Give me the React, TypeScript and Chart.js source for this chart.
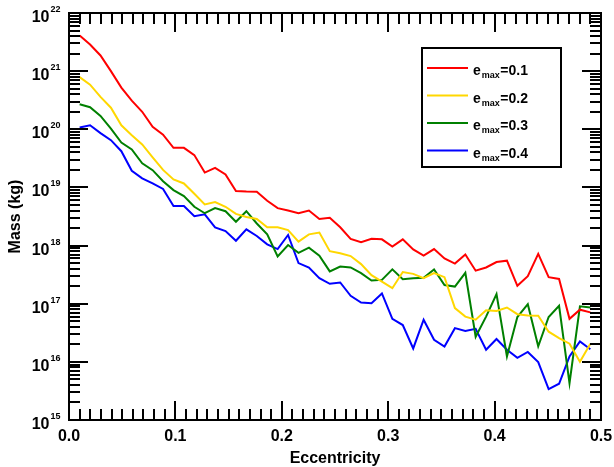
import React, { useEffect, useRef } from "react";
import { Chart, registerables } from "chart.js";

Chart.register(...registerables);

// Eccentricity bin centres
const ECCENTRICITY = [
  0.0100, 0.0198, 0.0296, 0.0394, 0.0492, 0.0590, 0.0688, 0.0786, 0.0884, 0.0982,
  0.1080, 0.1178, 0.1276, 0.1373, 0.1471, 0.1569, 0.1667, 0.1765, 0.1863, 0.1961,
  0.2059, 0.2157, 0.2255, 0.2353, 0.2451, 0.2549, 0.2647, 0.2745, 0.2843, 0.2941,
  0.3039, 0.3137, 0.3235, 0.3333, 0.3431, 0.3529, 0.3627, 0.3725, 0.3822, 0.3920,
  0.4018, 0.4116, 0.4214, 0.4312, 0.4410, 0.4508, 0.4606, 0.4704, 0.4802, 0.4900,
];

// Mass (kg) for e_max = 0.1
const MASS_EMAX_01 = [
  4.1e21, 2.87e21, 1.86e21, 1.0e21, 5.2e20, 3.1e20, 2.0e20, 1.1e20, 8.1e19, 4.8e19,
  4.8e19, 3.6e19, 1.8e19, 2.17e19, 1.67e19, 8.7e18, 8.5e18, 8.4e18, 5.9e18, 4.4e18,
  4.0e18, 3.6e18, 4.0e18, 2.86e18, 3.0e18, 2.06e18, 1.3e18, 1.14e18, 1.31e18, 1.28e18,
  9.6e17, 1.28e18, 8.6e17, 6.7e17, 8.7e17, 6.0e17, 4.9e17, 7.0e17, 3.7e17, 4.2e17,
  5.2e17, 5.5e17, 2.03e17, 2.97e17, 7.2e17, 2.86e17, 2.67e17, 5.5e16, 7.9e16, 7.1e16,
];

// Mass (kg) for e_max = 0.2
const MASS_EMAX_02 = [
  7.9e20, 5.85e20, 3.6e20, 2.35e20, 1.17e20, 7.9e19, 5.5e19, 3.3e19, 2.0e19, 1.37e19,
  1.17e19, 7.8e18, 5.1e18, 5.6e18, 4.65e18, 3.5e18, 3.1e18, 2.86e18, 2.06e18, 2.06e18,
  1.85e18, 1.17e18, 1.56e18, 1.67e18, 8.0e17, 7.4e17, 6.6e17, 4.8e17, 3.1e17, 2.4e17,
  1.85e17, 3.5e17, 3.26e17, 2.75e17, 3.35e17, 2.86e17, 8.4e16, 6.0e16, 5.3e16, 7.7e16,
  7.5e16, 8.6e16, 6.6e16, 6.3e16, 6.2e16, 3.3e16, 2.57e16, 2.05e16, 1.0e16, 2.05e16,
];

// Mass (kg) for e_max = 0.3
const MASS_EMAX_03 = [
  2.7e20, 2.4e20, 1.7e20, 1.03e20, 5.9e19, 4.5e19, 2.6e19, 1.98e19, 1.28e19, 9.0e18,
  7.1e18, 4.65e18, 3.6e18, 4.4e18, 3.9e18, 2.57e18, 3.9e18, 2.4e18, 1.56e18, 6.5e17,
  1.02e18, 7.5e17, 9.2e17, 6.7e17, 3.6e17, 4.35e17, 4.2e17, 3.35e17, 2.5e17, 2.57e17,
  3.9e17, 2.64e17, 2.75e17, 2.8e17, 3.9e17, 2.1e17, 1.97e17, 3.4e17, 2.7e16, 6.0e16,
  1.46e17, 1.24e16, 5.9e16, 9.8e16, 1.85e16, 5.9e16, 9.2e16, 4.3e15, 9.0e16, 8.6e16,
];

// Mass (kg) for e_max = 0.4
const MASS_EMAX_04 = [
  1.07e20, 1.17e20, 8.6e19, 6.5e19, 4.2e19, 1.93e19, 1.43e19, 1.17e19, 9.4e18, 4.8e18,
  4.8e18, 3.2e18, 3.45e18, 2.06e18, 1.78e18, 1.21e18, 1.9e18, 1.46e18, 1.05e18, 8.7e17,
  1.52e18, 5.0e17, 4.2e17, 2.75e17, 2.2e17, 2.32e17, 1.37e17, 1.05e17, 1.02e17, 1.5e17,
  5.5e16, 4.3e16, 1.7e16, 5.3e16, 2.4e16, 1.83e16, 3.8e16, 3.4e16, 3.7e16, 1.62e16,
  2.47e16, 1.62e16, 1.17e16, 1.48e16, 9.9e15, 3.4e15, 4.2e15, 1.24e16, 2.25e16, 1.65e16,
];

const SERIES_VALUES = ["0.1", "0.2", "0.3", "0.4"];
const SERIES_COLORS = ["#ff0000", "#ffd700", "#008000", "#0000ff"];

const X_MAJOR_TICKS = [0, 0.1, 0.2, 0.3, 0.4, 0.5];
const X_TICK_LABELS = ["0.0", "0.1", "0.2", "0.3", "0.4", "0.5"];
const Y_EXPONENTS = [15, 16, 17, 18, 19, 20, 21, 22];

const X_TITLE = "Eccentricity";
const Y_TITLE = "Mass (kg)";

const FONT = "'Liberation Sans', Arial, Helvetica, sans-serif";

const MAJOR_LEN = 19;
const MINOR_LEN = 11;

const framePlugin = {
  id: "frameTicksLegend",
  afterDatasetsDraw(chart: any) {
    const { ctx, chartArea, scales } = chart;
    const { left, right, top, bottom } = chartArea;
    const x = scales.x;
    const y = scales.y;
    ctx.save();
    ctx.strokeStyle = "#000";
    ctx.fillStyle = "#000";
    ctx.lineWidth = 2;
    ctx.lineCap = "butt";

    // x ticks (top & bottom)
    ctx.beginPath();
    for (let k = 0; k <= 50; k++) {
      const v = k / 100;
      const px = Math.round(x.getPixelForValue(v)) + 0.0;
      const len = k % 10 === 0 ? MAJOR_LEN : MINOR_LEN;
      ctx.moveTo(px, bottom);
      ctx.lineTo(px, bottom - len);
      ctx.moveTo(px, top);
      ctx.lineTo(px, top + len);
    }
    // y ticks (left & right)
    for (let e = 15; e <= 22; e++) {
      for (let m = 1; m <= 9; m++) {
        if (e === 22 && m > 1) break;
        const v = m * Math.pow(10, e);
        const py = Math.round(y.getPixelForValue(v));
        const len = m === 1 ? MAJOR_LEN : MINOR_LEN;
        ctx.moveTo(left, py);
        ctx.lineTo(left + len, py);
        ctx.moveTo(right, py);
        ctx.lineTo(right - len, py);
      }
    }
    ctx.stroke();

    // frame
    ctx.strokeRect(left, top, right - left, bottom - top);

    // x tick labels
    ctx.font = `bold 16px ${FONT}`;
    ctx.textAlign = "center";
    ctx.textBaseline = "alphabetic";
    X_MAJOR_TICKS.forEach((v, i) => {
      ctx.fillText(X_TICK_LABELS[i], x.getPixelForValue(v), bottom + 21);
    });

    // y tick labels 10^n
    Y_EXPONENTS.forEach((e) => {
      const py = y.getPixelForValue(Math.pow(10, e));
      ctx.font = `bold 16px ${FONT}`;
      ctx.textAlign = "right";
      ctx.fillText("10", left - 19.5, py + 9);
      ctx.font = `bold 9px ${FONT}`;
      ctx.textAlign = "left";
      ctx.fillText(String(e), left - 18.5, py - 1);
    });

    // axis titles
    ctx.font = `bold 16px ${FONT}`;
    ctx.textAlign = "center";
    ctx.fillText(X_TITLE, (left + right) / 2, bottom + 43);
    ctx.save();
    ctx.translate(20, (top + bottom) / 2);
    ctx.rotate(-Math.PI / 2);
    ctx.fillText(Y_TITLE, 0, 0);
    ctx.restore();

    // legend
    const bx = 422, by = 48, bw = 139, bh = 119;
    ctx.fillStyle = "#fff";
    ctx.fillRect(bx, by, bw, bh);
    ctx.strokeStyle = "#000";
    ctx.lineWidth = 2;
    ctx.strokeRect(bx, by, bw, bh);
    chart.data.datasets.forEach((ds: any, i: number) => {
      const ly = 68 + i * 27.5;
      ctx.strokeStyle = ds.borderColor;
      ctx.lineWidth = 2;
      ctx.beginPath();
      ctx.moveTo(427, ly);
      ctx.lineTo(468, ly);
      ctx.stroke();
      ctx.fillStyle = "#000";
      ctx.textAlign = "left";
      ctx.font = `bold 14px ${FONT}`;
      ctx.fillText("e", 473, ly + 7);
      const ew = ctx.measureText("e").width;
      ctx.font = `bold 9px ${FONT}`;
      ctx.fillText("max", 473 + ew + 1, ly + 10);
      const mw = ctx.measureText("max").width;
      ctx.font = `bold 14px ${FONT}`;
      ctx.fillText("=" + SERIES_VALUES[i], 473 + ew + 1 + mw + 0.5, ly + 7);
    });

    ctx.restore();
  },
};

export default function App() {
  const ref = useRef<HTMLCanvasElement | null>(null);
  useEffect(() => {
    if (!ref.current) return;
    const seriesData = [MASS_EMAX_01, MASS_EMAX_02, MASS_EMAX_03, MASS_EMAX_04];
    const chart = new Chart(ref.current, {
      type: "line",
      data: {
        datasets: seriesData.map((vals, i) => ({
          label: "e_max=" + SERIES_VALUES[i],
          data: ECCENTRICITY.map((e, j) => ({ x: e, y: vals[j] })),
          borderColor: SERIES_COLORS[i],
          backgroundColor: SERIES_COLORS[i],
          borderWidth: 2,
          pointRadius: 0,
          tension: 0,
          fill: false,
        })),
      },
      options: {
        responsive: false,
        animation: false,
        layout: { padding: { left: 0, right: 13, top: 13, bottom: 0 } },
        plugins: { legend: { display: false }, tooltip: { enabled: false } },
        scales: {
          x: {
            type: "linear",
            min: 0,
            max: 0.5,
            ticks: { display: false },
            grid: { display: false },
            border: { display: false },
            afterFit: (s: any) => {
              s.height = 47;
            },
          },
          y: {
            type: "logarithmic",
            min: 1e15,
            max: 1e22,
            ticks: { display: false },
            grid: { display: false },
            border: { display: false },
            afterFit: (s: any) => {
              s.width = 69;
            },
          },
        },
      },
      plugins: [framePlugin],
    });
    return () => chart.destroy();
  }, []);
  return (
    <div style={{ position: "absolute", left: 0, top: 0, width: 614, height: 467, background: "#fff" }}>
      <canvas ref={ref} width={614} height={467} style={{ display: "block" }} />
    </div>
  );
}
